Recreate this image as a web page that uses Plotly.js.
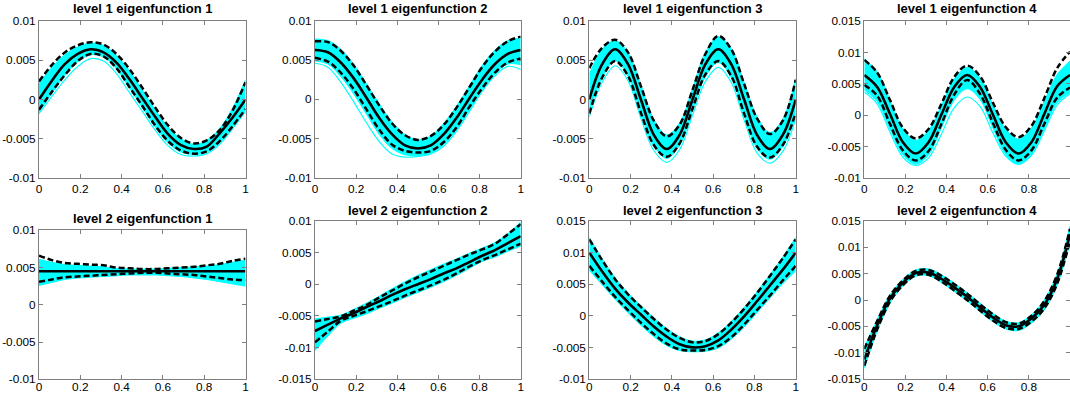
<!DOCTYPE html>
<html>
<head>
<meta charset="utf-8">
<script src="https://cdn.plot.ly/plotly-3.0.1.min.js"></script>
<style>
html,body{margin:0;padding:0;background:#fff;}
#chart{width:1070px;height:396px;}
</style>
</head>
<body>
<div id="chart"></div>
<script>
// shared sample positions along t in [0,1]
const xGrid = [0,0.0625,0.125,0.1875,0.25,0.3125,0.375,0.4375,0.5,0.5625,0.625,0.6875,0.75,0.8125,0.875,0.9375,1];

const titles = ["level 1 eigenfunction 1","level 1 eigenfunction 2","level 1 eigenfunction 3","level 1 eigenfunction 4",
                "level 2 eigenfunction 1","level 2 eigenfunction 2","level 2 eigenfunction 3","level 2 eigenfunction 4"];

const xTickVals = [0,0.2,0.4,0.6,0.8,1];
const xTickText = ["0","0.2","0.4","0.6","0.8","1"];

const yTicksA = [-0.01,-0.005,0,0.005,0.01];
const yTicksAText = ["-0.01","-0.005","0","0.005","0.01"];
const yTicksB = [-0.01,-0.005,0,0.005,0.01,0.015];
const yTicksBText = ["-0.01","-0.005","0","0.005","0.01","0.015"];
const yTicksC = [-0.015,-0.01,-0.005,0,0.005,0.01];
const yTicksCText = ["-0.015","-0.01","-0.005","0","0.005","0.01"];
const yTicksD = [-0.015,-0.01,-0.005,0,0.005,0.01,0.015];
const yTicksDText = ["-0.015","-0.01","-0.005","0","0.005","0.01","0.015"];

// ---- level 1 eigenfunction 1 ----
const p1Mean  = [0,0.0024,0.0045,0.0058,0.0064,0.0060,0.0047,0.0026,0.0002,-0.0022,-0.0044,-0.0058,-0.0063,-0.0060,-0.0043,-0.0023,0];
const p1Upper = [0.0023,0.0044,0.0060,0.0069,0.0073,0.0070,0.0058,0.0039,0.0015,-0.0010,-0.0033,-0.0049,-0.0056,-0.0052,-0.0039,-0.0014,0.0022];
const p1Lower = [-0.0013,0.0010,0.0031,0.0049,0.0058,0.0055,0.0040,0.0016,-0.0008,-0.0033,-0.0053,-0.0065,-0.0069,-0.0066,-0.0053,-0.0034,-0.0012];
const p1BandHi = [0.0020,0.0041,0.0057,0.0067,0.0072,0.0069,0.0056,0.0037,0.0012,-0.0013,-0.0035,-0.0050,-0.0057,-0.0052,-0.0037,-0.0011,0.0025];
const p1BandLo = [-0.0016,0.0008,0.0031,0.0048,0.0057,0.0054,0.0039,0.0015,-0.0010,-0.0035,-0.0055,-0.0067,-0.0070,-0.0067,-0.0055,-0.0035,-0.0013];
const p1Extra  = [-0.0018,0.0004,0.0025,0.0042,0.0052,0.0049,0.0033,0.0009,-0.0015,-0.0039,-0.0059,-0.0070,-0.0072,-0.0069,-0.0057,-0.0037,-0.0015];

// ---- level 1 eigenfunction 2 ----
const p2Mean  = [0.0063,0.0060,0.0047,0.0027,0.0002,-0.0024,-0.0045,-0.0059,-0.0063,-0.0059,-0.0045,-0.0024,0.0001,0.0025,0.0045,0.0058,0.0063];
const p2Upper = [0.0074,0.0073,0.0062,0.0043,0.0018,-0.0008,-0.0031,-0.0046,-0.0052,-0.0047,-0.0033,-0.0011,0.0015,0.0041,0.0061,0.0074,0.0080];
const p2Lower = [0.0053,0.0048,0.0034,0.0013,-0.0013,-0.0039,-0.0058,-0.0066,-0.0068,-0.0066,-0.0055,-0.0036,-0.0010,0.0014,0.0034,0.0047,0.0052];
const p2BandHi = [0.0077,0.0075,0.0064,0.0045,0.0020,-0.0006,-0.0029,-0.0045,-0.0052,-0.0047,-0.0031,-0.0009,0.0017,0.0043,0.0063,0.0075,0.0078];
const p2BandLo = [0.0049,0.0045,0.0029,0.0007,-0.0019,-0.0045,-0.0063,-0.0071,-0.0072,-0.0069,-0.0058,-0.0039,-0.0014,0.0012,0.0032,0.0045,0.0044];
const p2Extra  = [0.0046,0.0041,0.0022,-0.0003,-0.0030,-0.0054,-0.0070,-0.0074,-0.0073,-0.0070,-0.0060,-0.0041,-0.0016,0.0010,0.0030,0.0042,0.0038];

// ---- level 1 eigenfunction 3 ----
const p3Mean  = [0,0.0045,0.0064,0.0045,0,-0.0045,-0.0063,-0.0045,0,0.0045,0.0064,0.0045,0,-0.0045,-0.0063,-0.0045,0];
const p3Upper = [0.0040,0.0066,0.0076,0.0060,0.0017,-0.0027,-0.0047,-0.0032,0.0012,0.0058,0.0081,0.0064,0.0020,-0.0024,-0.0044,-0.0027,0.0025];
const p3Lower = [-0.0018,0.0028,0.0049,0.0030,-0.0017,-0.0058,-0.0073,-0.0056,-0.0012,0.0032,0.0049,0.0030,-0.0018,-0.0060,-0.0074,-0.0058,-0.0017];
const p3BandHi = [0.0032,0.0064,0.0075,0.0060,0.0018,-0.0025,-0.0045,-0.0030,0.0014,0.0060,0.0080,0.0065,0.0022,-0.0022,-0.0042,-0.0025,0.0027];
const p3BandLo = [-0.0016,0.0028,0.0049,0.0030,-0.0018,-0.0059,-0.0075,-0.0058,-0.0014,0.0029,0.0047,0.0028,-0.0020,-0.0062,-0.0076,-0.0060,-0.0018];
const p3Extra  = [-0.0022,0.0022,0.0043,0.0024,-0.0024,-0.0065,-0.0080,-0.0064,-0.0020,0.0023,0.0041,0.0022,-0.0026,-0.0068,-0.0081,-0.0066,-0.0024];

// ---- level 1 eigenfunction 4 ----
const p4Mean  = [0.0064,0.0045,0.0002,-0.0043,-0.0061,-0.0043,0.0001,0.0045,0.0064,0.0045,0.0001,-0.0043,-0.0061,-0.0043,0.0002,0.0046,0.0064];
const p4Upper = [0.0088,0.0068,0.0024,-0.0020,-0.0037,-0.0022,0.0018,0.0061,0.0079,0.0062,0.0020,-0.0019,-0.0035,-0.0017,0.0027,0.0075,0.0101];
const p4Lower = [0.0048,0.0031,-0.0014,-0.0056,-0.0072,-0.0057,-0.0014,0.0033,0.0056,0.0034,-0.0012,-0.0055,-0.0072,-0.0056,-0.0014,0.0028,0.0044];
const p4BandHi = [0.0090,0.0069,0.0024,-0.0022,-0.0040,-0.0024,0.0016,0.0058,0.0076,0.0060,0.0017,-0.0022,-0.0038,-0.0020,0.0022,0.0065,0.0086];
const p4BandLo = [0.0040,0.0022,-0.0022,-0.0063,-0.0078,-0.0063,-0.0020,0.0024,0.0042,0.0025,-0.0020,-0.0062,-0.0078,-0.0063,-0.0022,0.0020,0.0036];
const p4Extra  = [0.0037,0.0018,-0.0027,-0.0067,-0.0080,-0.0068,-0.0030,0.0012,0.0029,0.0014,-0.0028,-0.0065,-0.0078,-0.0064,-0.0025,0.0016,0.0034];

// ---- level 2 eigenfunction 1 ----
const p5Mean  = [0.0045,0.0045,0.0045,0.0045,0.0045,0.0045,0.0045,0.0045,0.0045,0.0045,0.0045,0.0045,0.0045,0.0045,0.0045,0.0045,0.0045];
const p5Upper = [0.0066,0.0060,0.0056,0.0055,0.0054,0.0053,0.0050,0.0049,0.0048,0.0048,0.0049,0.0050,0.0051,0.0053,0.0055,0.0059,0.0062];
const p5Lower = [0.0031,0.0034,0.0037,0.0038,0.0039,0.0040,0.0041,0.0042,0.0043,0.0043,0.0042,0.0041,0.0040,0.0038,0.0036,0.0034,0.0033];
const p5BandHi = [0.0061,0.0057,0.0054,0.0053,0.0052,0.0051,0.0049,0.0048,0.0048,0.0048,0.0049,0.0050,0.0051,0.0052,0.0054,0.0057,0.0060];
const p5BandLo = [0.0026,0.0030,0.0034,0.0036,0.0037,0.0038,0.0039,0.0040,0.0040,0.0040,0.0039,0.0038,0.0036,0.0034,0.0031,0.0028,0.0025];

// ---- level 2 eigenfunction 2 ----
const p6Mean  = [-0.0074,-0.0064,-0.0054,-0.0046,-0.0036,-0.0027,-0.0017,-0.0008,0,0.0008,0.0017,0.0025,0.0035,0.0045,0.0054,0.0065,0.0076];
const p6Upper = [-0.0059,-0.0055,-0.0051,-0.0042,-0.0033,-0.0021,-0.0010,0.0001,0.0011,0.0020,0.0029,0.0038,0.0047,0.0055,0.0064,0.0079,0.0095];
const p6Lower = [-0.0092,-0.0075,-0.0058,-0.0050,-0.0043,-0.0035,-0.0027,-0.0018,-0.0010,-0.0002,0.0007,0.0017,0.0028,0.0038,0.0046,0.0055,0.0064];
const p6BandHi = [-0.0055,-0.0052,-0.0049,-0.0040,-0.0030,-0.0019,-0.0007,0.0004,0.0014,0.0023,0.0032,0.0040,0.0049,0.0057,0.0066,0.0080,0.0098];
const p6BandLo = [-0.0105,-0.0082,-0.0062,-0.0054,-0.0047,-0.0038,-0.0030,-0.0021,-0.0013,-0.0005,0.0004,0.0014,0.0025,0.0036,0.0043,0.0052,0.0060];

// ---- level 2 eigenfunction 3 ----
const p7Mean  = [0.0100,0.0070,0.0043,0.0021,0.0002,-0.0017,-0.0033,-0.0045,-0.0050,-0.0048,-0.0039,-0.0022,-0.0001,0.0023,0.0048,0.0073,0.0100];
const p7Upper = [0.0121,0.0088,0.0058,0.0034,0.0014,-0.0005,-0.0022,-0.0035,-0.0042,-0.0040,-0.0029,-0.0011,0.0011,0.0036,0.0063,0.0091,0.0121];
const p7Lower = [0.0079,0.0054,0.0030,0.0009,-0.0011,-0.0029,-0.0044,-0.0053,-0.0055,-0.0054,-0.0048,-0.0034,-0.0014,0.0009,0.0032,0.0056,0.0079];
const p7BandHi = [0.0124,0.0090,0.0060,0.0036,0.0016,-0.0003,-0.0020,-0.0033,-0.0040,-0.0038,-0.0027,-0.0009,0.0013,0.0038,0.0065,0.0093,0.0124];
const p7BandLo = [0.0072,0.0049,0.0026,0.0005,-0.0015,-0.0033,-0.0047,-0.0055,-0.0057,-0.0056,-0.0051,-0.0037,-0.0018,0.0005,0.0028,0.0051,0.0071];

// ---- level 2 eigenfunction 4 ----
const p8Mean  = [-0.0113,-0.0048,0.0003,0.0033,0.0051,0.0052,0.0040,0.0024,0.0006,-0.0014,-0.0033,-0.0048,-0.0050,-0.0035,-0.0009,0.0040,0.0125];
const p8Upper = [-0.0093,-0.0040,0.0008,0.0037,0.0055,0.0057,0.0046,0.0030,0.0012,-0.0008,-0.0027,-0.0042,-0.0045,-0.0030,-0.0002,0.0048,0.0135];
const p8Lower = [-0.0125,-0.0056,-0.0003,0.0028,0.0047,0.0048,0.0035,0.0018,0.0000,-0.0020,-0.0039,-0.0053,-0.0055,-0.0041,-0.0016,0.0031,0.0112];
const p8BandHi = [-0.0090,-0.0038,0.0010,0.0039,0.0057,0.0059,0.0048,0.0032,0.0014,-0.0006,-0.0025,-0.0040,-0.0043,-0.0028,0.0000,0.0050,0.0140];
const p8BandLo = [-0.0130,-0.0059,-0.0006,0.0026,0.0045,0.0046,0.0033,0.0016,-0.0002,-0.0022,-0.0041,-0.0055,-0.0058,-0.0044,-0.0019,0.0028,0.0108];

const panels = [
  {mean:p1Mean, up:p1Upper, lo:p1Lower, bhi:p1BandHi, blo:p1BandLo, extra:[p1Extra], yr:[-0.01,0.01], tv:yTicksA, tt:yTicksAText, px:[39,245.5], py:[21,178], ty:9},
  {mean:p2Mean, up:p2Upper, lo:p2Lower, bhi:p2BandHi, blo:p2BandLo, extra:[p2Extra], yr:[-0.01,0.01], tv:yTicksA, tt:yTicksAText, px:[315,520.7], py:[21,177.5], ty:9},
  {mean:p3Mean, up:p3Upper, lo:p3Lower, bhi:p3BandHi, blo:p3BandLo, extra:[p3Extra], yr:[-0.01,0.01], tv:yTicksA, tt:yTicksAText, px:[589.3,795.7], py:[21,178], ty:9},
  {mean:p4Mean, up:p4Upper, lo:p4Lower, bhi:p4BandHi, blo:p4BandLo, extra:[p4Extra], yr:[-0.01,0.015], tv:yTicksB, tt:yTicksBText, px:[864.3,1070], py:[21,178], ty:9},
  {mean:p5Mean, up:p5Upper, lo:p5Lower, bhi:p5BandHi, blo:p5BandLo, extra:[], yr:[-0.01,0.01], tv:yTicksA, tt:yTicksAText, px:[39,245.5], py:[230.3,379.3], ty:219},
  {mean:p6Mean, up:p6Upper, lo:p6Lower, bhi:p6BandHi, blo:p6BandLo, extra:[], yr:[-0.015,0.01], tv:yTicksC, tt:yTicksCText, px:[315,520.7], py:[221,379], ty:210},
  {mean:p7Mean, up:p7Upper, lo:p7Lower, bhi:p7BandHi, blo:p7BandLo, extra:[], yr:[-0.01,0.015], tv:yTicksB, tt:yTicksBText, px:[589.3,795.7], py:[221,379], ty:210},
  {mean:p8Mean, up:p8Upper, lo:p8Lower, bhi:p8BandHi, blo:p8BandLo, extra:[], yr:[-0.015,0.015], tv:yTicksD, tt:yTicksDText, px:[864.3,1070], py:[221,379], ty:210}
];

const W = 1070, H = 396;
const CYAN = '#00FFFF';
const AXC = '#7f7f7f';
const traces = [];
const layout = {
  width: W, height: H,
  margin: {l:0, r:0, t:0, b:0, pad:0},
  paper_bgcolor: '#ffffff',
  plot_bgcolor: '#ffffff',
  showlegend: false,
  annotations: []
};

panels.forEach((p, i) => {
  const s = i === 0 ? '' : String(i + 1);
  const xa = 'x' + s, ya = 'y' + s;
  const common = {x: xGrid, xaxis: xa, yaxis: ya, mode: 'lines', hoverinfo: 'skip'};
  traces.push(Object.assign({}, common, {y: p.blo, line: {color: CYAN, width: 1, shape: 'spline'}}));
  traces.push(Object.assign({}, common, {y: p.bhi, line: {color: CYAN, width: 1, shape: 'spline'}, fill: 'tonexty', fillcolor: CYAN}));
  p.extra.forEach(e => traces.push(Object.assign({}, common, {y: e, line: {color: CYAN, width: 1.2, shape: 'spline'}})));
  traces.push(Object.assign({}, common, {y: p.up, line: {color: '#000', width: 2.5, dash: '6px,3px', shape: 'spline'}}));
  traces.push(Object.assign({}, common, {y: p.lo, line: {color: '#000', width: 2.5, dash: '6px,3px', shape: 'spline'}}));
  traces.push(Object.assign({}, common, {y: p.mean, line: {color: '#000', width: 2.6, shape: 'spline'}}));

  const axCommon = {
    showgrid: false, zeroline: false, showline: true, linecolor: AXC, linewidth: 1,
    mirror: 'ticks', ticks: 'inside', ticklen: 4, tickwidth: 1, tickcolor: AXC,
    tickfont: {family: 'Liberation Sans, Arial, sans-serif', size: 11.8, color: '#000'},
    fixedrange: true
  };
  layout['xaxis' + s] = Object.assign({}, axCommon, {
    domain: [p.px[0] / W, Math.min(1, p.px[1] / W)],
    anchor: ya, range: [0, 1], tickmode: 'array', tickvals: xTickVals, ticktext: xTickText
  });
  layout['yaxis' + s] = Object.assign({}, axCommon, {
    domain: [1 - p.py[1] / H, 1 - p.py[0] / H],
    anchor: xa, range: p.yr, tickmode: 'array', tickvals: p.tv, ticktext: p.tt
  });
  layout.annotations.push({
    text: titles[i], xref: 'paper', yref: 'paper',
    x: (p.px[0] + p.px[1]) / 2 / W, y: 1 - p.ty / H,
    xanchor: 'center', yanchor: 'middle', showarrow: false,
    font: {family: 'Liberation Sans, Arial, sans-serif', size: 13, color: '#000', weight: 'bold'}
  });
});

// bottom-row panels sit close to the page edge: lift their x tick labels slightly
['xaxis5','xaxis6','xaxis7','xaxis8'].forEach(k => { layout[k].ticklabelstandoff = -3; });

Plotly.newPlot('chart', traces, layout, {staticPlot: true, displayModeBar: false});
</script>
</body>
</html>
